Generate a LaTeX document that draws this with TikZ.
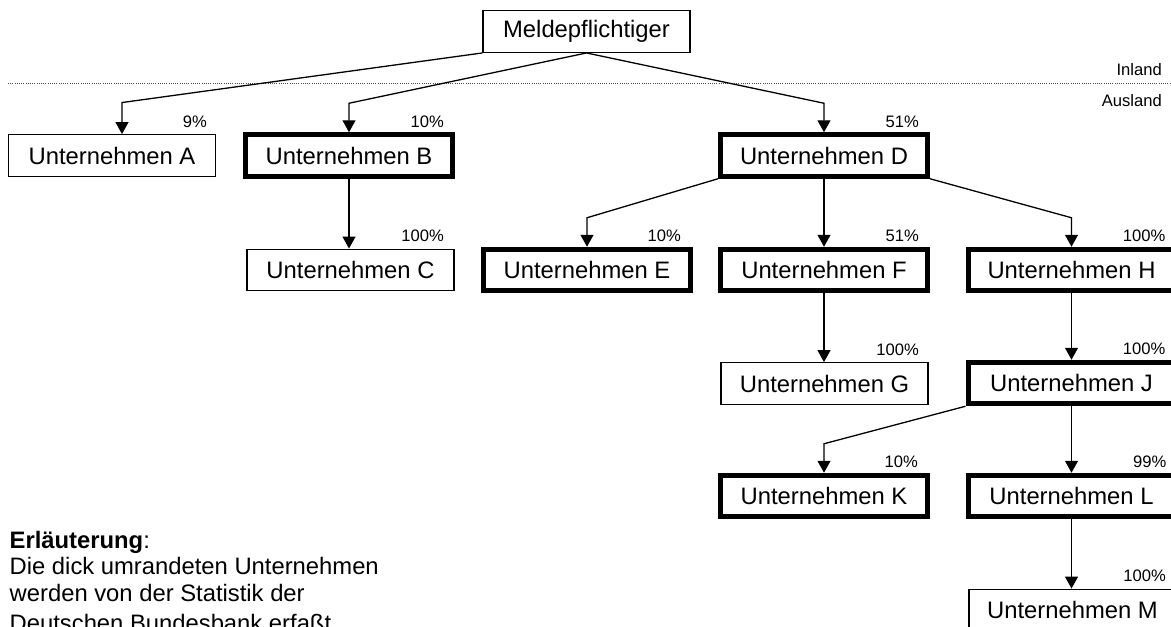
\documentclass[tikz,border=0pt]{standalone}
\usepackage{fontspec}
\setmainfont{Liberation Sans}
\usetikzlibrary{arrows.meta,calc}
\begin{document}
\begin{tikzpicture}[x=1pt,y=-1pt,
  box/.style={draw, line width=1.4pt, minimum width=207pt, minimum height=41.5pt, inner sep=0pt, font=\fontsize{23.8}{26}\selectfont},
  thickbox/.style={box, line width=5pt},
  conn/.style={line width=1.3pt, -{Triangle[length=12pt,width=13pt]}},
  pct/.style={anchor=base east, inner sep=0pt, font=\fontsize{16.6}{18}\selectfont},
  side/.style={anchor=base east, inner sep=0pt, font=\fontsize{16.6}{18}\selectfont}]
\useasboundingbox (0,0) rectangle (1171,627);
% nodes
\node[box] (Mp) at (586.5,31.5) {Meldepflichtiger};
\node[box] (A) at (112,155.5) {Unternehmen A};
\node[thickbox] (B) at (349,155.5) {Unternehmen B};
\node[thickbox] (D) at (824,155.5) {Unternehmen D};
\node[box] (C) at (350.5,270) {Unternehmen C};
\node[thickbox] (E) at (587,270) {Unternehmen E};
\node[thickbox] (F) at (824,270) {Unternehmen F};
\node[thickbox] (H) at (1071.5,270) {Unternehmen H};
\node[box] (G) at (824.5,383.5) {Unternehmen G};
\node[thickbox] (J) at (1071.5,383) {Unternehmen J};
\node[thickbox] (K) at (824,496) {Unternehmen K};
\node[thickbox] (L) at (1071.5,496) {Unternehmen L};
\node[box] (M) at (1072.5,610) {Unternehmen M};
% Inland / Ausland
\draw[line width=0.9pt, gray!60!black, dash pattern=on 1pt off 1.2pt] (8,83) -- (1171,83);
\node[side] (inl) at (1162,75) {Inland};
\node[side] (ausl) at (1162,106) {Ausland};
% connectors
\draw[conn] (Mp.south west) -- ([xshift=10pt,yshift=31.5pt]A.north) -- ([xshift=10pt]A.north);
\draw[conn] (Mp.south) -- ([yshift=29pt]B.north) -- (B.north);
\draw[conn] (Mp.south) -- ([yshift=29pt]D.north) -- (D.north);
\draw[conn] (B.south) -- (B.south |- C.north);
\draw[conn] (D.south west) -- ([yshift=29pt]E.north) -- (E.north);
\draw[conn] (D.south) -- (F.north);
\draw[conn] (D.south east) -- ([yshift=29pt]H.north) -- (H.north);
\draw[conn] (F.south) -- (F.south |- G.north);
\draw[conn] (H.south) -- (J.north);
\draw[conn] (J.south west) -- ([yshift=29pt]K.north) -- (K.north);
\draw[conn] (J.south) -- (L.north);
\draw[conn] (L.south) -- (L.south |- M.north);
% percentages
\node[pct] (pA) at ($(A.center)+(95,-28.5)$) {9\%};
\node[pct] (pB) at ($(B.center)+(95,-28.5)$) {10\%};
\node[pct] (pD) at ($(D.center)+(95,-28.5)$) {51\%};
\node[pct] (pC) at ($(C.center)+(93.5,-28.5)$) {100\%};
\node[pct] (pE) at ($(E.center)+(94,-28.5)$) {10\%};
\node[pct] (pF) at ($(F.center)+(95,-28.5)$) {51\%};
\node[pct] (pH) at ($(H.center)+(94,-28.5)$) {100\%};
\node[pct] (pG) at ($(G.center)+(94.5,-28.5)$) {100\%};
\node[pct] (pJ) at ($(J.center)+(94,-28.5)$) {100\%};
\node[pct] (pK) at ($(K.center)+(94,-28.5)$) {10\%};
\node[pct] (pL) at ($(L.center)+(95,-28.5)$) {99\%};
\node[pct] (pM) at ($(M.center)+(93.5,-28.5)$) {100\%};
% explanation (base anchor = last line)
\node[anchor=base west, inner sep=0pt, align=left, font=\fontsize{23.8}{25.5}\selectfont] (expl) at (9.5,631)
  {\textbf{Erläuterung}:\\Die dick umrandeten Unternehmen\\[2pt]werden von der Statistik der\\[4pt]Deutschen Bundesbank erfaßt};
\end{tikzpicture}
\end{document}
